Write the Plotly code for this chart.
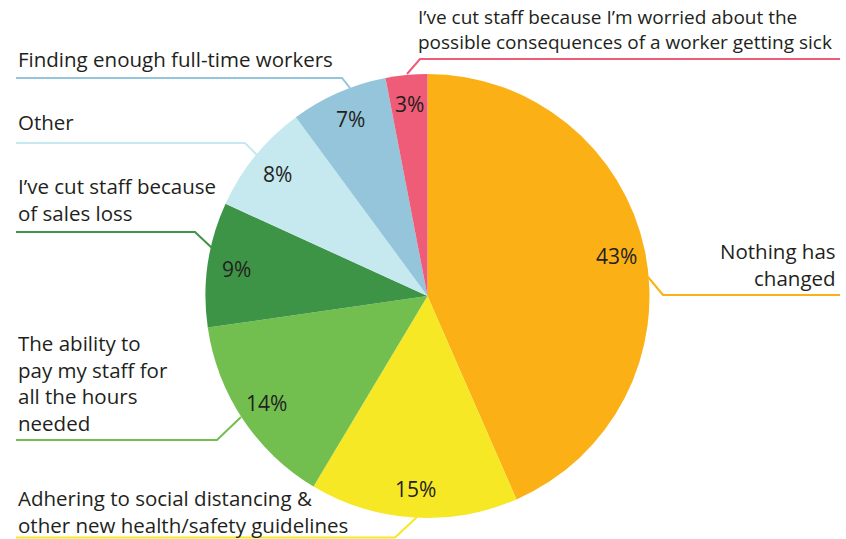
import math
import plotly.graph_objects as go

# Survey answers, clockwise from 12 o'clock
categories = [
    "Nothing has changed",
    "Adhering to social distancing & other new health/safety guidelines",
    "The ability to pay my staff for all the hours needed",
    "I've cut staff because of sales loss",
    "Other",
    "Finding enough full-time workers",
    "I've cut staff because I'm worried about the possible consequences of a worker getting sick",
]
shares = [43, 15, 14, 9, 8, 7, 3]
colors = ["#FBB116", "#F6E825", "#72BF50", "#3E9446", "#C6E8EF", "#94C5DA", "#EF5C77"]

# Callout text, one entry per printed line
callout_lines = [
    ["Nothing has", "changed"],
    ["Adhering to social distancing &", "other new health/safety guidelines"],
    ["The ability to", "pay my staff for", "all the hours", "needed"],
    ["I\u2019ve cut staff because", "of sales loss"],
    ["Other"],
    ["Finding enough full-time workers"],
    ["I\u2019ve cut staff because I\u2019m worried about the",
     "possible consequences of a worker getting sick"],
]

W, H = 846, 539
CX, CY, R = 427.5, 296.0, 222.0
FONT = "Open Sans"
FS = 20.5
INK = "#231F20"

fig = go.Figure()
fig.add_trace(go.Pie(
    labels=categories,
    values=shares,
    marker=dict(colors=colors, line=dict(width=0)),
    sort=False,
    direction="clockwise",
    rotation=0,
    textinfo="none",
    hoverinfo="label+value",
    showlegend=False,
    domain=dict(x=[(CX - R) / W, (CX + R) / W],
                y=[(H - CY - R) / H, (H - CY + R) / H]),
))

annotations = []
shapes = []

# Percentage labels near the rim of each slice
total = sum(shares)
cum = 0.0
for v in shares:
    mid = (cum + v / 2) / total * 2 * math.pi
    cum += v
    rr = 0.87 * R
    x = CX + rr * math.sin(mid)
    y = CY - rr * math.cos(mid)
    annotations.append(dict(
        x=x, y=y, xref="x", yref="y", text=f"{v}%", showarrow=False,
        font=dict(family=FONT, size=21, color=INK),
        xanchor="center", yanchor="middle",
    ))

# Callout block placement (x anchor, vertical centre of block) and leader paths
callout_layout = [
    dict(x=838, y=264.5, align="right", size=FS,
         path=[(840, 295), (663, 295), (648, 277)]),
    dict(x=16, y=511, align="left", size=FS,
         path=[(16, 537.5), (395, 537.5), (417, 517)]),
    dict(x=16, y=383, align="left", size=FS,
         path=[(16, 440), (217, 440), (241, 417)]),
    dict(x=16, y=199, align="left", size=FS,
         path=[(16, 232), (195, 232), (212, 248)]),
    dict(x=16, y=122, align="left", size=FS,
         path=[(16, 143), (245, 143), (257, 155)]),
    dict(x=16, y=59, align="left", size=FS,
         path=[(16, 78), (342, 78), (350, 88)]),
    dict(x=416, y=29, align="left", size=19,
         path=[(840, 59), (420, 59), (407, 74)]),
]

for lines, lay, col in zip(callout_lines, callout_layout, colors):
    annotations.append(dict(
        x=lay["x"], y=lay["y"], xref="x", yref="y",
        text="<br>".join(lines), showarrow=False, align=lay["align"],
        font=dict(family=FONT, size=lay["size"], color=INK),
        xanchor=lay["align"], yanchor="middle",
    ))
    pts = lay["path"]
    d = "M " + " L ".join(f"{px},{py}" for px, py in pts)
    shapes.append(dict(type="path", path=d, xref="x", yref="y",
                       line=dict(color=col, width=2)))

fig.update_layout(
    width=W, height=H,
    margin=dict(l=0, r=0, t=0, b=0),
    paper_bgcolor="white", plot_bgcolor="rgba(0,0,0,0)",
    xaxis=dict(range=[0, W], visible=False, fixedrange=True),
    yaxis=dict(range=[H, 0], visible=False, fixedrange=True),
    annotations=annotations,
    shapes=shapes,
)

fig.write_html("out.html")
